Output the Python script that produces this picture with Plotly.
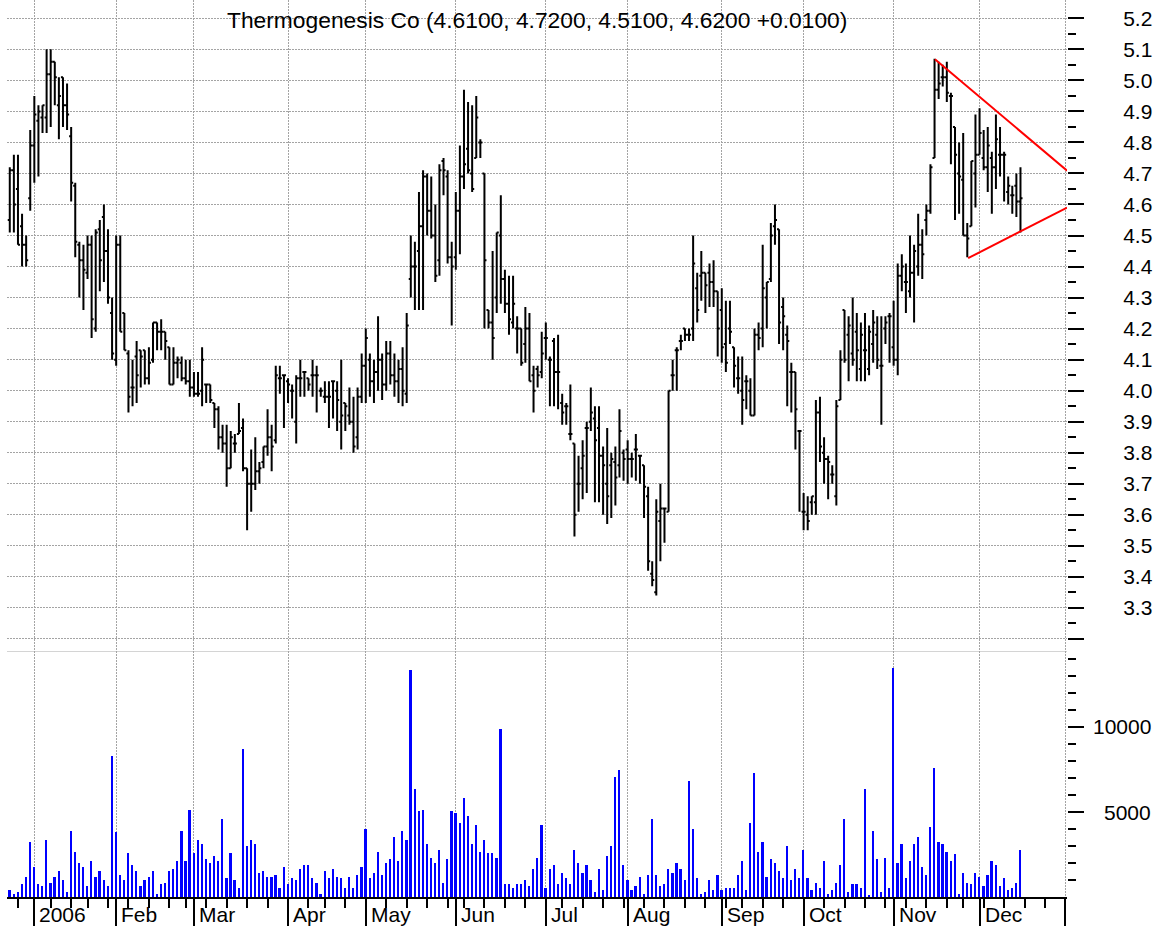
import plotly.graph_objects as go

# ---------------- data ----------------
first_index = -6  # first bar = 22 Dec 2005; index 0 = 3 Jan 2006 (trading-day axis)

month_labels = ["2006", "Feb", "Mar", "Apr", "May", "Jun", "Jul", "Aug", "Sep", "Oct", "Nov", "Dec"]
month_start = [0, 20, 39, 62, 81, 103, 125, 145, 168, 188, 210, 231]
next_year_start = 252  # Jan 2007 (unlabelled tick at the right edge)
week_start = [-4, 4, 9, 13, 18, 23, 28, 33, 37, 42, 47, 52, 57, 67, 71, 76, 86, 91, 96, 101,
              105, 110, 115, 120, 129, 134, 139, 144, 149, 154, 159, 164, 169, 173, 178, 183,
              193, 198, 203, 208, 213, 218, 223, 227, 232, 237, 242, 247]

opens = [4.55, 4.71, 4.65, 4.53, 4.47, 4.62, 4.79, 4.87, 4.88, 4.88, 5.02, 5.06, 4.92, 5.01, 4.92, 4.82,
         4.66, 4.47, 4.42, 4.38, 4.47, 4.20, 4.52, 4.56, 4.45, 4.25, 4.10, 4.47, 4.25, 4.12, 4.01, 4.11,
         4.13, 4.13, 4.04, 4.10, 4.22, 4.19, 4.19, 4.14, 4.02, 4.09, 4.09, 4.04, 4.03, 4.01, 3.99, 4.00,
         4.02, 4.02, 3.96, 3.94, 3.85, 3.83, 3.75, 3.83, 3.86, 3.88, 3.75, 3.70, 3.70, 3.74, 3.77, 3.82,
         3.85, 3.84, 4.04, 4.05, 4.03, 4.00, 3.90, 4.04, 4.06, 4.04, 4.05, 4.05, 4.00, 3.98, 3.98, 4.03,
         4.00, 3.90, 3.96, 3.92, 3.90, 3.85, 3.98, 4.08, 4.10, 4.03, 4.06, 4.10, 4.02, 4.12, 4.05, 4.03,
         4.07, 3.99, 4.36, 4.40, 4.45, 4.53, 4.69, 4.58, 4.50, 4.42, 4.74, 4.69, 4.43, 4.43, 4.58, 4.69,
         4.78, 4.70, 4.75, 4.80, 4.70, 4.26, 4.22, 4.30, 4.50, 4.36, 4.28, 4.22, 4.20, 4.20, 4.15, 4.20,
         4.05, 4.07, 4.06, 4.17, 4.10, 4.16, 4.06, 3.96, 3.95, 3.86, 3.83, 3.70, 3.75, 3.88, 3.90, 3.91,
         3.88, 3.79, 3.70, 3.76, 3.77, 3.76, 3.80, 3.81, 3.78, 3.81, 3.79, 3.76, 3.66, 3.41, 3.35, 3.58,
         3.62, 3.61, 4.05, 4.13, 4.16, 4.20, 4.18, 4.20, 4.33, 4.37, 4.38, 4.38, 4.35, 4.32, 4.26, 4.15,
         4.20, 4.14, 4.04, 4.00, 4.03, 4.00, 3.92, 4.18, 4.20, 4.30, 4.36, 4.53, 4.52, 4.27, 4.18, 4.06,
         4.06, 3.87, 3.61, 3.60, 3.64, 3.64, 3.93, 3.80, 3.78, 3.73, 3.66, 3.97, 4.26, 4.18, 4.12, 4.19,
         4.07, 4.13, 4.07, 4.15, 4.18, 4.08, 4.20, 4.24, 4.14, 4.10, 4.37, 4.35, 4.32, 4.38, 4.40, 4.47,
         4.55, 4.58, 4.75, 4.97, 5.01, 5.01, 4.95, 4.85, 4.70, 4.68, 4.50, 4.53, 4.70, 4.76, 4.75, 4.72,
         4.75, 4.72, 4.76, 4.76, 4.64, 4.63, 4.66, 4.61]
highs = [4.72, 4.76, 4.76, 4.57, 4.50, 4.84, 4.95, 4.92, 4.92, 5.10, 5.10, 5.06, 5.01, 5.01, 4.99, 4.85,
         4.67, 4.48, 4.47, 4.50, 4.50, 4.52, 4.55, 4.60, 4.52, 4.30, 4.50, 4.50, 4.25, 4.13, 4.10, 4.16,
         4.13, 4.13, 4.14, 4.22, 4.22, 4.23, 4.19, 4.14, 4.14, 4.11, 4.11, 4.10, 4.10, 4.06, 4.06, 4.14,
         4.02, 4.02, 3.96, 3.95, 3.89, 3.89, 3.87, 3.86, 3.96, 3.91, 3.75, 3.81, 3.85, 3.77, 3.82, 3.94,
         3.89, 4.08, 4.08, 4.05, 4.04, 4.02, 4.05, 4.10, 4.06, 4.04, 4.10, 4.08, 4.01, 4.03, 4.03, 4.03,
         4.03, 4.10, 3.96, 4.01, 3.98, 4.01, 4.12, 4.20, 4.12, 4.10, 4.24, 4.12, 4.16, 4.16, 4.12, 4.10,
         4.14, 4.25, 4.50, 4.48, 4.64, 4.71, 4.70, 4.69, 4.60, 4.73, 4.75, 4.71, 4.48, 4.64, 4.79, 4.97,
         4.93, 4.92, 4.95, 4.81, 4.70, 4.26, 4.45, 4.51, 4.63, 4.39, 4.37, 4.37, 4.24, 4.20, 4.27, 4.25,
         4.08, 4.08, 4.19, 4.22, 4.11, 4.17, 4.18, 3.99, 3.96, 4.02, 3.83, 3.79, 3.84, 3.90, 4.01, 3.95,
         3.95, 3.82, 3.88, 3.80, 3.82, 3.94, 3.81, 3.84, 3.80, 3.86, 3.79, 3.76, 3.69, 3.45, 3.65, 3.70,
         3.62, 4.00, 4.10, 4.14, 4.18, 4.20, 4.20, 4.50, 4.38, 4.45, 4.38, 4.41, 4.42, 4.32, 4.33, 4.29,
         4.29, 4.14, 4.11, 4.11, 4.05, 4.04, 4.20, 4.22, 4.47, 4.35, 4.54, 4.60, 4.52, 4.30, 4.21, 4.09,
         4.06, 3.87, 3.67, 3.66, 3.66, 3.97, 3.98, 3.85, 3.79, 3.76, 3.97, 4.13, 4.26, 4.24, 4.30, 4.25,
         4.22, 4.25, 4.21, 4.26, 4.24, 4.24, 4.24, 4.25, 4.29, 4.41, 4.44, 4.41, 4.50, 4.47, 4.57, 4.52,
         4.60, 4.73, 5.07, 5.06, 5.05, 5.06, 4.96, 4.85, 4.80, 4.83, 4.54, 4.74, 4.89, 4.91, 4.84, 4.85,
         4.77, 4.89, 4.85, 4.77, 4.69, 4.66, 4.70, 4.72]
lows = [4.51, 4.51, 4.47, 4.40, 4.40, 4.58, 4.67, 4.69, 4.83, 4.83, 4.85, 4.92, 4.81, 4.85, 4.84, 4.61,
        4.43, 4.30, 4.26, 4.36, 4.17, 4.19, 4.32, 4.35, 4.28, 4.10, 4.08, 4.19, 4.13, 3.93, 3.95, 3.96,
        4.01, 4.02, 4.02, 4.09, 4.13, 4.13, 4.10, 4.02, 4.02, 4.04, 4.03, 4.02, 3.98, 3.98, 3.98, 3.95,
        3.96, 3.96, 3.88, 3.81, 3.80, 3.69, 3.75, 3.80, 3.86, 3.74, 3.55, 3.61, 3.68, 3.70, 3.75, 3.79,
        3.74, 3.83, 3.99, 3.88, 3.96, 3.91, 3.83, 3.98, 3.98, 4.00, 3.98, 3.93, 3.98, 3.96, 3.88, 3.91,
        3.87, 3.81, 3.87, 3.89, 3.80, 3.81, 3.96, 3.96, 3.98, 3.96, 4.00, 3.97, 4.00, 4.02, 3.98, 3.96,
        3.95, 3.96, 4.30, 4.26, 4.26, 4.26, 4.50, 4.49, 4.35, 4.37, 4.63, 4.41, 4.21, 4.39, 4.44, 4.65,
        4.70, 4.64, 4.75, 4.75, 4.20, 4.20, 4.10, 4.25, 4.28, 4.25, 4.18, 4.20, 4.12, 4.08, 4.09, 4.03,
        3.93, 4.01, 4.04, 4.10, 3.95, 3.95, 3.94, 3.89, 3.89, 3.84, 3.53, 3.61, 3.65, 3.67, 3.87, 3.64,
        3.64, 3.60, 3.57, 3.59, 3.63, 3.72, 3.71, 3.70, 3.72, 3.71, 3.70, 3.59, 3.42, 3.37, 3.34, 3.45,
        3.51, 3.61, 4.00, 4.00, 4.13, 4.16, 4.16, 4.16, 4.22, 4.29, 4.25, 4.27, 4.27, 4.11, 4.09, 4.06,
        4.15, 4.01, 3.99, 3.89, 3.94, 3.92, 3.92, 4.13, 4.14, 4.20, 4.35, 4.47, 4.15, 4.13, 3.95, 3.93,
        3.81, 3.61, 3.55, 3.55, 3.60, 3.60, 3.77, 3.70, 3.65, 3.70, 3.63, 3.97, 4.09, 4.03, 4.08, 4.03,
        4.03, 4.03, 4.05, 4.09, 4.07, 3.89, 4.15, 4.09, 4.08, 4.05, 4.32, 4.25, 4.30, 4.22, 4.37, 4.36,
        4.50, 4.57, 4.75, 4.94, 4.98, 4.93, 4.73, 4.55, 4.57, 4.50, 4.43, 4.53, 4.59, 4.76, 4.71, 4.64,
        4.57, 4.65, 4.69, 4.61, 4.60, 4.57, 4.56, 4.51]
closes = [4.71, 4.60, 4.47, 4.47, 4.42, 4.79, 4.89, 4.90, 4.92, 5.02, 5.06, 5.01, 4.95, 4.92, 4.89, 4.67,
          4.48, 4.42, 4.39, 4.47, 4.23, 4.51, 4.42, 4.45, 4.30, 4.12, 4.47, 4.19, 4.13, 3.98, 4.01, 4.05,
          4.11, 4.04, 4.09, 4.22, 4.19, 4.19, 4.16, 4.02, 4.09, 4.10, 4.04, 4.03, 4.01, 3.99, 3.99, 4.10,
          4.02, 3.97, 3.94, 3.85, 3.83, 3.75, 3.85, 3.83, 3.87, 3.75, 3.70, 3.70, 3.74, 3.75, 3.82, 3.85,
          3.82, 4.05, 4.04, 4.05, 4.02, 4.00, 4.04, 4.04, 4.06, 4.02, 4.05, 4.05, 4.00, 3.98, 3.98, 4.03,
          3.97, 3.92, 3.95, 3.90, 3.82, 3.98, 4.08, 4.17, 4.03, 4.06, 4.10, 4.02, 4.12, 4.05, 4.03, 4.07,
          4.00, 4.21, 4.40, 4.40, 4.53, 4.69, 4.58, 4.50, 4.37, 4.71, 4.71, 4.43, 4.40, 4.58, 4.69, 4.73,
          4.71, 4.65, 4.88, 4.80, 4.42, 4.22, 4.17, 4.51, 4.36, 4.28, 4.23, 4.28, 4.20, 4.09, 4.20, 4.03,
          4.00, 4.05, 4.12, 4.17, 4.10, 4.06, 4.06, 3.93, 3.95, 3.86, 3.60, 3.70, 3.79, 3.88, 3.93, 3.84,
          3.79, 3.76, 3.66, 3.78, 3.72, 3.87, 3.78, 3.78, 3.78, 3.81, 3.79, 3.69, 3.45, 3.39, 3.61, 3.62,
          3.62, 4.00, 4.05, 4.13, 4.16, 4.18, 4.18, 4.41, 4.26, 4.38, 4.34, 4.35, 4.32, 4.20, 4.14, 4.09,
          4.19, 4.08, 4.04, 3.97, 4.03, 3.92, 4.18, 4.17, 4.33, 4.35, 4.50, 4.55, 4.22, 4.24, 4.16, 4.06,
          3.94, 3.87, 3.61, 3.58, 3.66, 3.93, 3.82, 3.78, 3.77, 3.73, 3.95, 4.10, 4.10, 4.21, 4.10, 4.13,
          4.18, 4.13, 4.19, 4.22, 4.10, 4.08, 4.22, 4.24, 4.10, 4.37, 4.40, 4.35, 4.38, 4.45, 4.47, 4.44,
          4.58, 4.72, 4.97, 4.99, 5.01, 4.96, 4.95, 4.76, 4.69, 4.50, 4.49, 4.74, 4.76, 4.83, 4.72, 4.79,
          4.72, 4.81, 4.76, 4.76, 4.66, 4.63, 4.61, 4.62]
volumes = [400, 200, 300, 750, 1200, 3230, 1770, 750, 630, 3350, 850, 1200, 1540, 980, 300, 3900,
           2660, 1990, 1770, 630, 2090, 1200, 1540, 980, 630, 8290, 3800, 1320, 980, 2560, 1870, 1540,
           630, 980, 1200, 1540, 180, 750, 850, 1540, 1650, 2090, 3900, 2090, 5140, 2560, 3350, 3110,
           2210, 1990, 2440, 2090, 4570, 1100, 2560, 980, 530, 8730, 3010, 3350, 3110, 1420, 1540, 1200,
           1200, 1320, 530, 1770, 750, 1100, 980, 1650, 1870, 1870, 1100, 850, 180, 1540, 1100, 1650,
           1200, 1100, 530, 1200, 530, 1320, 1770, 4020, 1100, 1420, 2660, 1320, 1990, 2210, 3550, 2090,
           3900, 3350, 13340, 6380, 5040, 5140, 3110, 2320, 1990, 2780, 850, 2210, 5040, 4920, 4350, 5810,
           4790, 3110, 4250, 2660, 3350, 2560, 2560, 2320, 9870, 750, 750, 530, 750, 750, 980, 630,
           1665, 2315, 4224, 528, 1665, 1869, 751, 1422, 1097, 751, 2782, 1990, 1422, 1869, 975, 305,
           1665, 406, 2437, 3006, 7048, 7494, 1869, 975, 406, 630, 1198, 183, 1320, 4570, 1320, 630,
           751, 1665, 1422, 1990, 1665, 975, 6824, 4001, 1097, 183, 305, 975, 406, 1320, 406, 528,
           528, 528, 1320, 2092, 406, 4346, 7271, 2661, 3229, 1198, 2214, 1990, 1544, 1097, 3006, 975,
           1665, 1097, 2782, 1097, 406, 853, 528, 2092, 183, 406, 853, 1869, 4570, 305, 751, 751,
           528, 6377, 61, 3900, 2214, 305, 2315, 528, 13466, 1990, 3107, 1097, 2092, 3107, 3554, 1767,
           1320, 4123, 7616, 3229, 3107, 2661, 2092, 2559, 183, 1422, 853, 751, 1422, 1198, 630, 1320,
           2092, 1869, 630, 1097, 406, 528, 853, 2782]

price_major = [3.2, 3.3, 3.4, 3.5, 3.6, 3.7, 3.8, 3.9, 4.0, 4.1, 4.2, 4.3, 4.4, 4.5, 4.6, 4.7,
               4.8, 4.9, 5.0, 5.1, 5.2]
price_labels = ["", "3.3", "3.4", "3.5", "3.6", "3.7", "3.8", "3.9", "4.0", "4.1", "4.2", "4.3",
                "4.4", "4.5", "4.6", "4.7", "4.8", "4.9", "5.0", "5.1", "5.2"]
price_minor = [3.25, 3.35, 3.45, 3.55, 3.65, 3.75, 3.85, 3.95, 4.05, 4.15, 4.25, 4.35, 4.45,
               4.55, 4.65, 4.75, 4.85, 4.95, 5.05, 5.15]
volume_major = [5000, 10000]
volume_minor = [1000, 2000, 3000, 4000, 6000, 7000, 8000, 9000, 11000, 12000, 13000, 14000]

# triangle trend lines (index, price)
upper_line = [(220.1, 5.068), (252.4, 4.709)]
lower_line = [(228.2, 4.427), (252.4, 4.590)]

n = len(opens)
assert len(highs) == n and len(lows) == n and len(closes) == n and len(volumes) == n, \
    (len(opens), len(highs), len(lows), len(closes), len(volumes))

# ---------------- figure ----------------
FONT = "Liberation Sans, Arial, Helvetica, sans-serif"
x_vals = list(range(first_index, first_index + n))
x_range = [-6.68, 252.37]
price_range = [3.161, 5.259]
vol_range = [0, 14470]
vol_frac = 246 / 897
grid_col = "#a4a4a4"
grid_dash = "1.5px,1.5px"

fig = go.Figure()
fig.add_trace(go.Ohlc(
    x=x_vals, open=opens, high=highs, low=lows, close=closes,
    increasing=dict(line=dict(color="black", width=2)),
    decreasing=dict(line=dict(color="black", width=2)),
    tickwidth=0.5, xaxis="x", yaxis="y", hoverinfo="skip", showlegend=False))
fig.add_trace(go.Bar(
    x=x_vals, y=volumes, width=0.42, marker=dict(color="#0000ff", line=dict(width=0)),
    xaxis="x2", yaxis="y2", hoverinfo="skip", showlegend=False))

for (a, b) in (upper_line, lower_line):
    fig.add_shape(type="line", xref="x", yref="y", x0=a[0], y0=a[1], x1=b[0], y1=b[1],
                  line=dict(color="#ff0000", width=2))

last = n - 1
title = "Thermogenesis Co ({:.4f}, {:.4f}, {:.4f}, {:.4f} {:+.4f})".format(
    opens[last], highs[last], lows[last], closes[last], closes[last] - closes[last - 1])
fig.add_annotation(text=title, x=0.5, xref="paper", y=1, yref="paper", yanchor="middle",
                   yshift=-20, showarrow=False, font=dict(family=FONT, size=22.8, color="black"))

for lab, idx in zip(month_labels, month_start):
    fig.add_annotation(text=lab, x=idx, xref="x2", y=0, yref="paper", xanchor="left",
                       yanchor="top", xshift=3, yshift=-4, showarrow=False,
                       font=dict(family=FONT, size=21, color="black"))
for v in volume_major:
    fig.add_annotation(text=str(v), x=1, xref="paper", y=v, yref="y2", xanchor="right",
                       yanchor="middle", xshift=86, showarrow=False,
                       font=dict(family=FONT, size=21, color="black"))

month_ticks = month_start + [next_year_start]
common_x = dict(range=x_range, zeroline=False, tickmode="array", tickvals=month_ticks,
                showgrid=True, gridcolor=grid_col, griddash=grid_dash, gridwidth=1,
                automargin=False)
fig.update_layout(
    width=1168, height=926, margin=dict(l=7, r=101, t=0, b=29, autoexpand=False),
    paper_bgcolor="white", plot_bgcolor="white", showlegend=False, bargap=0,
    font=dict(family=FONT, size=21, color="black"),
    xaxis=dict(domain=[0, 1], anchor="y", showticklabels=False, ticks="",
               showline=True, linecolor="#d4d4d4", linewidth=1,
               rangeslider=dict(visible=False), **common_x),
    xaxis2=dict(domain=[0, 1], anchor="y2", ticktext=[""] * len(month_ticks),
                ticks="outside", ticklen=29, tickwidth=2, tickcolor="black",
                showline=True, linecolor="black", linewidth=2,
                minor=dict(tickmode="array", tickvals=week_start, ticks="outside",
                           ticklen=9, tickwidth=2, tickcolor="black", showgrid=False),
                **common_x),
    yaxis=dict(domain=[vol_frac, 1], anchor="x", side="right", range=price_range,
               tickmode="array", tickvals=price_major, ticktext=price_labels,
               ticks="outside", ticklen=16, tickwidth=2, tickcolor="black",
               ticklabelstandoff=35, automargin=False,
               showline=False, zeroline=False,
               showgrid=True, gridcolor=grid_col, griddash=grid_dash, gridwidth=1,
               minor=dict(tickmode="array", tickvals=price_minor, ticks="outside",
                          ticklen=8, tickwidth=2, tickcolor="black", showgrid=False)),
    yaxis2=dict(domain=[0, vol_frac], anchor="x2", side="right", range=vol_range,
                tickmode="array", tickvals=volume_major, showticklabels=False,
                ticks="outside", ticklen=16, tickwidth=2, tickcolor="black",
                automargin=False, showline=False, zeroline=False, showgrid=False,
                minor=dict(tickmode="array", tickvals=volume_minor, ticks="outside",
                           ticklen=8, tickwidth=2, tickcolor="black", showgrid=False)),
)

fig.write_html("out.html", config={"displayModeBar": False},
               post_script="document.body.style.margin='0px';")
